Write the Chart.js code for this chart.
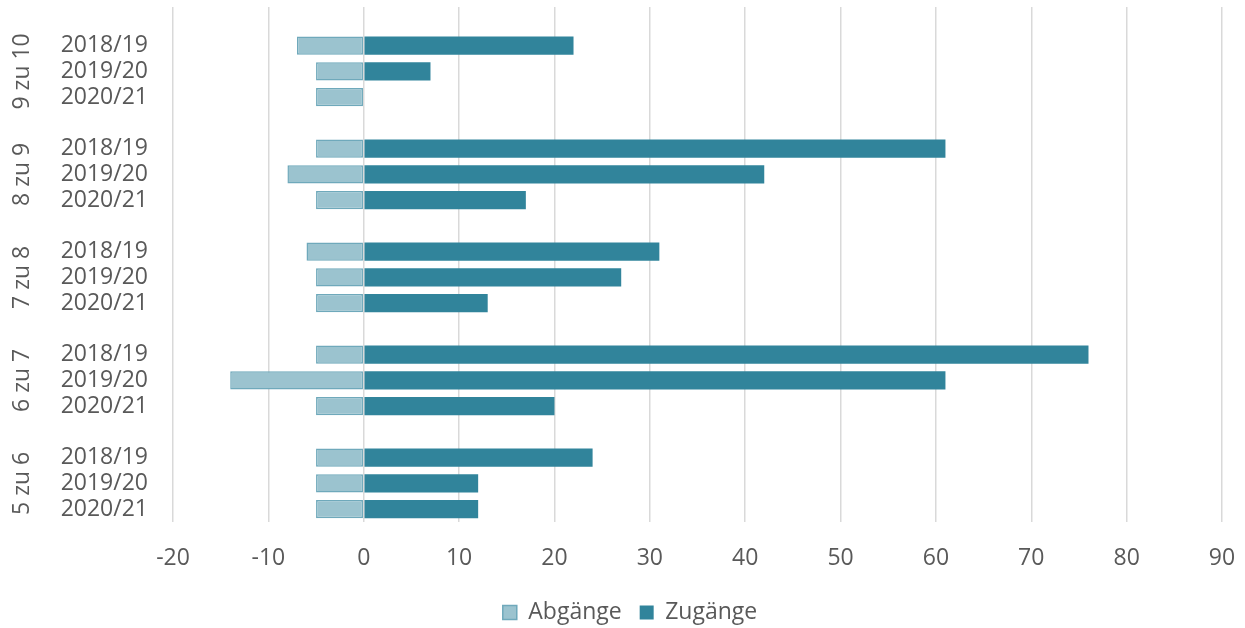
<!DOCTYPE html>
<html>
<head>
<meta charset="utf-8">
<script src="https://cdn.jsdelivr.net/npm/chart.js@4/dist/chart.umd.min.js"></script>
<style>
html,body{margin:0;padding:0;background:#fff;}
#wrap{width:1245px;height:628px;position:relative;}
</style>
</head>
<body>
<div id="wrap"><canvas id="c" width="1245" height="628"></canvas></div>
<script>
// ---- data ----
const groups = ['9 zu 10', '8 zu 9', '7 zu 8', '6 zu 7', '5 zu 6'];
const years = ['2018/19', '2019/20', '2020/21'];
const abgaenge = [
  [-7, -5, -5],
  [-5, -8, -5],
  [-6, -5, -5],
  [-5, -14, -5],
  [-5, -5, -5]
];
const zugaenge = [
  [22, 7, 0],
  [61, 42, 17],
  [31, 27, 13],
  [76, 61, 20],
  [24, 12, 12]
];
const xTicks = [-20, -10, 0, 10, 20, 30, 40, 50, 60, 70, 80, 90];

// ---- build flat rows (blank row before every group) ----
const labels = [];
const abgData = [];
const zugData = [];
const groupRow = {};
groups.forEach((g, gi) => {
  labels.push(''); abgData.push(null); zugData.push(null);
  years.forEach((y, yi) => {
    if (yi === 1) groupRow[g] = labels.length;
    labels.push(y);
    abgData.push(abgaenge[gi][yi]);
    zugData.push(zugaenge[gi][yi]);
  });
});

const FONT = "'Open Sans', 'Noto Sans', sans-serif";
const FS = 23;
const TXT = '#595959';

const groupLabelPlugin = {
  id: 'groupLabels',
  afterLayout(chart) {
    if (chart.legend) { chart.legend.left += 19; chart.legend.right += 19; }
  },
  afterDraw(chart) {
    const ctx = chart.ctx;
    const ys = chart.scales.y;
    ctx.save();
    ctx.fillStyle = TXT;
    ctx.font = FS + 'px ' + FONT;
    ctx.textAlign = 'center';
    ctx.textBaseline = 'middle';
    groups.forEach(g => {
      const py = ys.getPixelForValue(groupRow[g]);
      ctx.save();
      ctx.translate(22, py);
      ctx.rotate(-Math.PI / 2);
      ctx.fillText(g, 0, 0);
      ctx.restore();
    });
    ctx.restore();
  }
};

new Chart(document.getElementById('c'), {
  type: 'bar',
  data: {
    labels: labels,
    datasets: [
      {
        label: 'Abgänge',
        data: abgData,
        backgroundColor: '#9bc3cf',
        borderColor: '#6fa9bb',
        borderWidth: 1.5,
        borderSkipped: false,
        categoryPercentage: 1,
        barPercentage: 0.7
      },
      {
        label: 'Zugänge',
        data: zugData,
        backgroundColor: '#31849b',
        borderWidth: 0,
        categoryPercentage: 1,
        barPercentage: 0.7
      }
    ]
  },
  options: {
    indexAxis: 'y',
    responsive: false,
    animation: false,
    layout: { padding: { left: 0, right: 23, top: 7, bottom: -6 } },
    scales: {
      x: {
        stacked: true,
        min: -20,
        max: 90,
        afterBuildTicks(scale) { scale.ticks = xTicks.map(v => ({ value: v })); },
        grid: { color: '#d9d9d9', lineWidth: 1.5, drawTicks: false },
        border: { display: false },
        ticks: { color: TXT, font: { family: FONT, size: FS }, padding: 23 },
        afterFit(scale) { scale.paddingLeft = 0; scale.paddingRight = 0; scale.height = 61; }
      },
      y: {
        stacked: true,
        grid: { display: false, drawTicks: false },
        border: { display: false },
        ticks: { color: TXT, font: { family: FONT, size: FS }, padding: 25, autoSkip: false },
        afterFit(scale) { scale.width = 173; scale.paddingTop = 0; scale.paddingBottom = 0; }
      }
    },
    plugins: {
      legend: {
        position: 'bottom',
        labels: {
          color: TXT,
          font: { family: FONT, size: FS },
          boxWidth: 14,
          boxHeight: 14,
          padding: 18
        }
      },
      tooltip: { enabled: false }
    }
  },
  plugins: [groupLabelPlugin]
});
</script>
</body>
</html>
